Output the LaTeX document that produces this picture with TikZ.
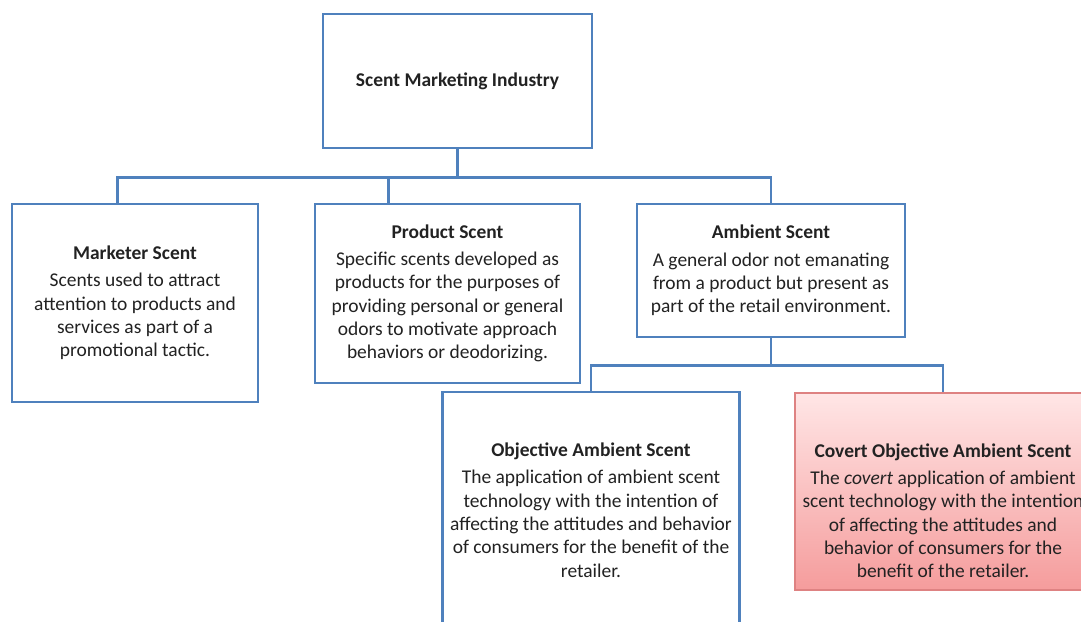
\documentclass[tikz,border=0pt]{standalone}
\usepackage{fontspec}
\setmainfont{Carlito}
\usetikzlibrary{calc}

\definecolor{boxblue}{RGB}{79,129,189}
\definecolor{covline}{RGB}{222,130,130}
\definecolor{covtop}{RGB}{255,230,230}
\definecolor{covbot}{RGB}{245,156,156}
\definecolor{ink}{RGB}{34,34,34}

\tikzset{
  box/.style={draw=boxblue, line width=2pt, fill=white, align=center,
    text=ink, font=\fontsize{14.6}{17.5}\selectfont, inner sep=1pt},
  covbox/.style={box, draw=covline, line width=1.2pt, top color=covtop, bottom color=covbot},
  link/.style={draw=boxblue, line width=2pt}
}

\begin{document}
\begin{tikzpicture}[x=0.75pt,y=-0.75pt]
\useasboundingbox (0,0) rectangle (1081,621);
\clip (0,0) rectangle (1081,621);
\fill[white] (0,0) rectangle (1081,621);

% boxes
\node[box, minimum width=201.75pt, minimum height=100.5pt] (top) at (457.5,81)
  {\textbf{Scent Marketing Industry}};
\node[box, minimum width=184.5pt, minimum height=148.5pt] (mkt) at (135,303)
  {\textbf{Marketer Scent}\\[3pt]Scents used to attract\\attention to products and\\services as part of a\\promotional tactic.};
\node[box, minimum width=198.75pt, minimum height=134.25pt] (prod) at (447.5,293.5)
  {\textbf{Product Scent}\\[3pt]Specific scents developed as\\products for the purposes of\\providing personal or general\\odors to motivate approach\\behaviors or deodorizing.};
\node[box, minimum width=201pt, minimum height=99.75pt] (amb) at (771,270.5)
  {\textbf{Ambient Scent}\\[3pt]A general odor not emanating\\from a product but present as\\part of the retail environment.};
\node[box, minimum width=222.75pt, minimum height=177pt] (obj) at (591,510)
  {\textbf{Objective Ambient Scent}\\[3pt]The application of ambient scent\\technology with the intention of\\affecting the attitudes and behavior\\of consumers for the benefit of the\\retailer.};
% text sits lower than the middle of this box
\node[covbox, minimum width=222pt, minimum height=147.75pt] (cov) at (943,491.5)
  {\rule{0pt}{39pt}\textbf{Covert Objective Ambient Scent}\\[3pt]The \emph{covert} application of ambient\\scent technology with the intention\\of affecting the attitudes and\\behavior of consumers for the\\benefit of the retailer.};

% entry points of the first row
\coordinate (mktin) at ($(mkt.north west)!0.43!(mkt.north east)$);
\coordinate (prodin) at ($(prod.north west)!0.28!(prod.north east)$);

% connectors
\draw[link] (top.south) -- ++(0,28) -| (mktin);
\draw[link] (top.south) -- ++(0,28) -| (prodin);
\draw[link] (top.south) -- ++(0,28) -| (amb.north);
\draw[link] (amb.south) -- ++(0,27) -| (obj.north);
\draw[link] (amb.south) -- ++(0,27) -| (cov.north);
\end{tikzpicture}
\end{document}
